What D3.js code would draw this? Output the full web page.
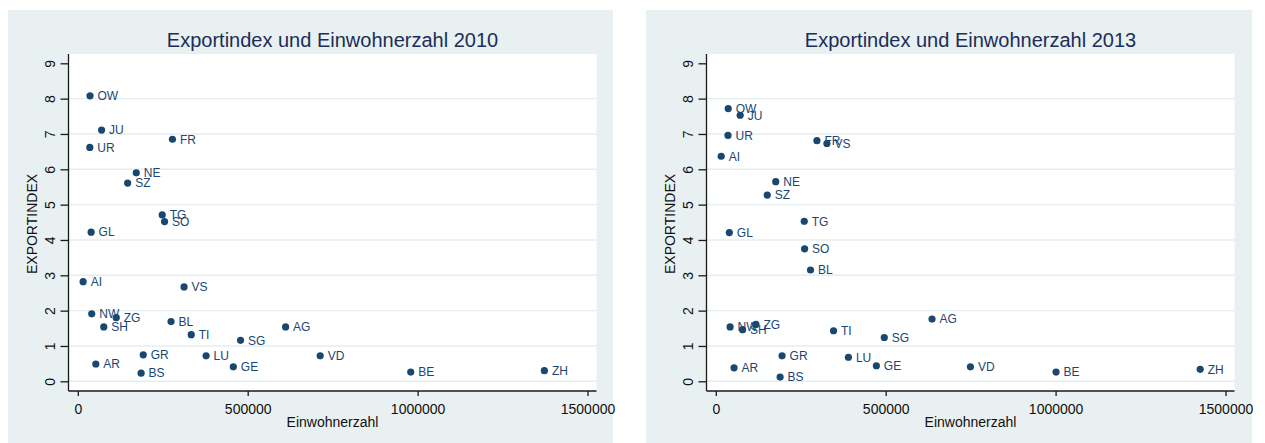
<!DOCTYPE html>
<html>
<head>
<meta charset="utf-8">
<script src="https://cdn.jsdelivr.net/npm/d3@7"></script>
<style>
  body { margin: 0; background: #ffffff; }
  svg { display: block; }
  text { font-family: "Liberation Sans", Arial, Helvetica, sans-serif; }
</style>
</head>
<body>
<svg id="chart" width="1265" height="443"></svg>
<script>
// Kantone, Einwohnerzahl und Exportindex 2010
const cantons2010 = ["OW","JU","UR","FR","NE","SZ","TG","SO","GL","AI","VS","NW","ZG","SH","BL","TI","AG","SG","GR","LU","AR","BS","GE","VD","BE","ZH"];
const pop2010     = [35900, 70000, 35400, 278500, 172100, 146700, 248400, 255300, 39200, 15700, 312700, 41000, 113100, 76400, 274400, 333800, 611500, 478900, 192600, 377600, 53000, 186300, 457700, 713300, 979800, 1373100];
const export2010  = [8.08, 7.11, 6.62, 6.85, 5.90, 5.61, 4.71, 4.52, 4.22, 2.82, 2.67, 1.91, 1.80, 1.54, 1.69, 1.32, 1.54, 1.16, 0.75, 0.72, 0.49, 0.23, 0.41, 0.72, 0.26, 0.30];

// Kantone, Einwohnerzahl und Exportindex 2013
const cantons2013 = ["OW","JU","UR","AI","FR","VS","NE","SZ","TG","GL","SO","BL","NW","SH","ZG","TI","SG","AG","GR","LU","GE","AR","BS","VD","BE","ZH"];
const pop2013     = [36500, 71700, 35900, 15800, 297600, 327000, 176400, 151400, 260300, 39800, 261400, 278700, 42100, 78800, 118100, 346500, 495800, 636400, 195000, 390300, 472500, 53700, 189300, 749400, 1001300, 1425500];
const export2013  = [7.72, 7.53, 6.96, 6.37, 6.81, 6.73, 5.65, 5.27, 4.53, 4.21, 3.75, 3.15, 1.54, 1.46, 1.61, 1.43, 1.24, 1.76, 0.72, 0.68, 0.44, 0.38, 0.12, 0.41, 0.26, 0.34];

// Achsenbeschriftungen
const xTicks = [0, 500000, 1000000, 1500000];
const yTicks = [0, 1, 2, 3, 4, 5, 6, 7, 8, 9];
const yGrid  = [0, 1, 2, 3, 4, 5, 6, 7, 8];

const panels = [
  { title: "Exportindex und Einwohnerzahl 2010", names: cantons2010, xs: pop2010, ys: export2010, left: 8,   width: 605 },
  { title: "Exportindex und Einwohnerzahl 2013", names: cantons2013, xs: pop2013, ys: export2013, left: 646, width: 606 }
];

const svg = d3.select("#chart");
const navy = "#1a476f";

panels.forEach(p => {
  const g = svg.append("g");

  // Grafikbereich
  g.append("rect")
    .attr("x", p.left).attr("y", 10)
    .attr("width", p.width).attr("height", 433)
    .attr("fill", "#e8f0f2");

  const plotL = p.left + 60.5;
  const plotR = plotL + 528;
  const plotT = 54;
  const plotB = 391;

  const x = d3.scaleLinear().domain([0, 1500000]).range([plotL + 9.3, plotL + 519]);
  const y = d3.scaleLinear().domain([0, 9]).range([381.3, 63.3]);

  // Plotbereich
  g.append("rect")
    .attr("x", plotL).attr("y", plotT)
    .attr("width", plotR - plotL).attr("height", plotB - plotT)
    .attr("fill", "#ffffff");

  // Gitterlinien
  g.selectAll(".grid").data(yGrid).enter().append("line")
    .attr("x1", plotL).attr("x2", plotR)
    .attr("y1", d => y(d)).attr("y2", d => y(d))
    .attr("stroke", "#e4edf0").attr("stroke-width", 1.4);

  // y-Achse
  const yAxis = d3.axisLeft(y).tickValues(yTicks).tickSize(8).tickFormat(d3.format("d"));
  const ya = g.append("g").attr("transform", `translate(${plotL},0)`).call(yAxis);
  ya.select(".domain").attr("d", `M0,${plotT}V${plotB}`).attr("stroke", "#1a1a1a").attr("stroke-width", 1.3);
  ya.selectAll(".tick line").attr("stroke", "#1a1a1a").attr("stroke-width", 1.3);
  ya.selectAll(".tick text")
    .attr("x", null).attr("dy", null)
    .attr("transform", "translate(-19,0) rotate(-90)")
    .attr("text-anchor", "middle")
    .attr("dy", "-0.0em")
    .attr("y", 5)
    .attr("font-size", 14)
    .attr("font-family", null)
    .attr("fill", "#111");

  // x-Achse
  const xAxis = d3.axisBottom(x).tickValues(xTicks).tickSize(5).tickFormat(d3.format("d"));
  const xa = g.append("g").attr("transform", `translate(0,${plotB})`).call(xAxis);
  xa.select(".domain").attr("d", `M${plotL},0H${plotR}`).attr("stroke", "#1a1a1a").attr("stroke-width", 1.3);
  xa.selectAll(".tick line").attr("stroke", "#1a1a1a").attr("stroke-width", 1.3);
  xa.selectAll(".tick text")
    .attr("y", 23).attr("dy", null)
    .attr("font-size", 14)
    .attr("font-family", null)
    .attr("fill", "#111");

  const cx = (plotL + plotR) / 2;

  // Titel
  g.append("text")
    .attr("x", cx).attr("y", 46.5)
    .attr("text-anchor", "middle")
    .attr("font-size", 20)
    .attr("fill", "#1c2d58")
    .text(p.title);

  // Achsentitel
  g.append("text")
    .attr("x", cx).attr("y", 427)
    .attr("text-anchor", "middle")
    .attr("font-size", 14)
    .attr("fill", "#111")
    .text("Einwohnerzahl");

  g.append("text")
    .attr("transform", `translate(${p.left + 28.5},224) rotate(-90)`)
    .attr("text-anchor", "middle")
    .attr("font-size", 14)
    .attr("fill", "#111")
    .text("EXPORTINDEX");

  // Punkte mit Kantonsbeschriftung
  const pts = p.names.map((n, i) => ({ name: n, pop: p.xs[i], exp: p.ys[i] }));
  const pg = g.selectAll(".pt").data(pts).enter().append("g");
  pg.append("circle")
    .attr("cx", d => x(d.pop)).attr("cy", d => y(d.exp))
    .attr("r", 3.6)
    .attr("fill", navy);
  pg.append("text")
    .attr("x", d => x(d.pop) + 7.5).attr("y", d => y(d.exp) + 4.3)
    .attr("font-size", 12)
    .attr("fill", navy)
    .text(d => d.name);
});
</script>
</body>
</html>
